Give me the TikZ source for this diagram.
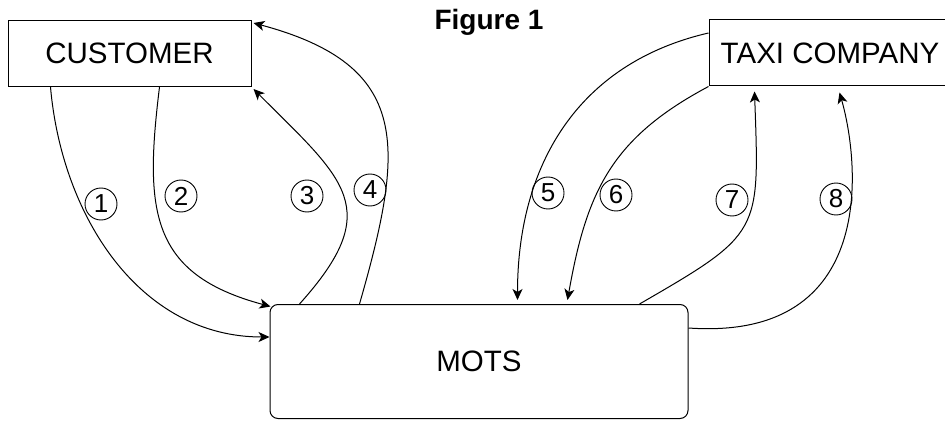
\documentclass[tikz,border=0pt]{standalone}
\usepackage{fontspec}
\setmainfont{Liberation Sans}
\usetikzlibrary{arrows.meta,calc}
\begin{document}
\begin{tikzpicture}[x=1pt,y=1pt,
  box/.style={draw,line width=1pt,inner sep=0pt,font=\fontsize{29.5}{33}\selectfont},
  num/.style={draw,circle,line width=0.9pt,minimum size=32pt,inner sep=0pt,font=\fontsize{26}{29}\selectfont},
  flow/.style={line width=1pt,-{Stealth[length=11pt,width=10pt,inset=3pt]}},
  plain/.style={line width=1pt}]
\useasboundingbox (0,0) rectangle (945,421);
\node[box,minimum width=243pt,minimum height=66pt] (cust) at (129.5,367.5) {CUSTOMER};
\node[box,minimum width=242pt,minimum height=66pt] (taxi) at (830,368) {TAXI COMPANY};
\node[box,rounded corners=8pt,minimum width=418pt,minimum height=114pt] (mots) at (479,59.5) {MOTS};
\node[font=\bfseries\fontsize{28}{31}\selectfont] (title) at (489,398.5) {Figure 1};
% connection points
\coordinate (c1) at ($(cust.south west)+(43,0)$);
\coordinate (c2) at ($(cust.south west)+(152,0)$);
\coordinate (c3) at ($(cust.south east)+(2,-2)$);
\coordinate (c4) at ($(cust.north east)+(2,-3)$);
\coordinate (m1) at ($(mots.west)+(0,24.5)$);
\coordinate (m2) at ($(mots.north west)+(1,-2.5)$);
\coordinate (m3) at ($(mots.north west)+(30,0)$);
\coordinate (m4) at ($(mots.north west)+(90,0)$);
\coordinate (m5) at ($(mots.north west)+(248,4)$);
\coordinate (m6) at ($(mots.north west)+(298,4)$);
\coordinate (m7) at ($(mots.north west)+(370,0)$);
\coordinate (m8) at ($(mots.east)+(0,33.5)$);
\coordinate (t5) at ($(taxi.west)+(0,20)$);
\coordinate (t6) at (taxi.south west);
\coordinate (t7) at ($(taxi.south west)+(46,-5)$);
\coordinate (t8) at ($(taxi.south west)+(131,-6)$);
% connectors
\draw[flow] (c1) to[out=-85,in=180] (m1);
\draw[flow] (c2) to[out=-97,in=165,looseness=1.3] (m2);
\draw[flow] (m3) to[out=48,in=-45,looseness=1.5] (c3);
\draw[flow] (m4) to[out=74,in=-15,looseness=1.4] (c4);
\draw[flow] (t5) to[out=193,in=90,looseness=1.05] (m5);
\draw[flow] (t6) to[out=208,in=80,looseness=1.1] (m6);
\draw[flow] (m7) to[out=30,in=-88,looseness=1.5] (t7);
\draw[flow] (m8) to[out=-4,in=-74,out looseness=1.75,in looseness=0.65] (t8);
% labels
\node[num] (n1) at (101,217) {1};
\node[num] (n2) at (181,225) {2};
\node[num] (n3) at (307,225) {3};
\node[num] (n4) at (370,231) {4};
\node[num] (n5) at (548,228) {5};
\node[num] (n6) at (616,226) {6};
\node[num] (n7) at (732,221) {7};
\node[num] (n8) at (836,222) {8};
\end{tikzpicture}
\end{document}
